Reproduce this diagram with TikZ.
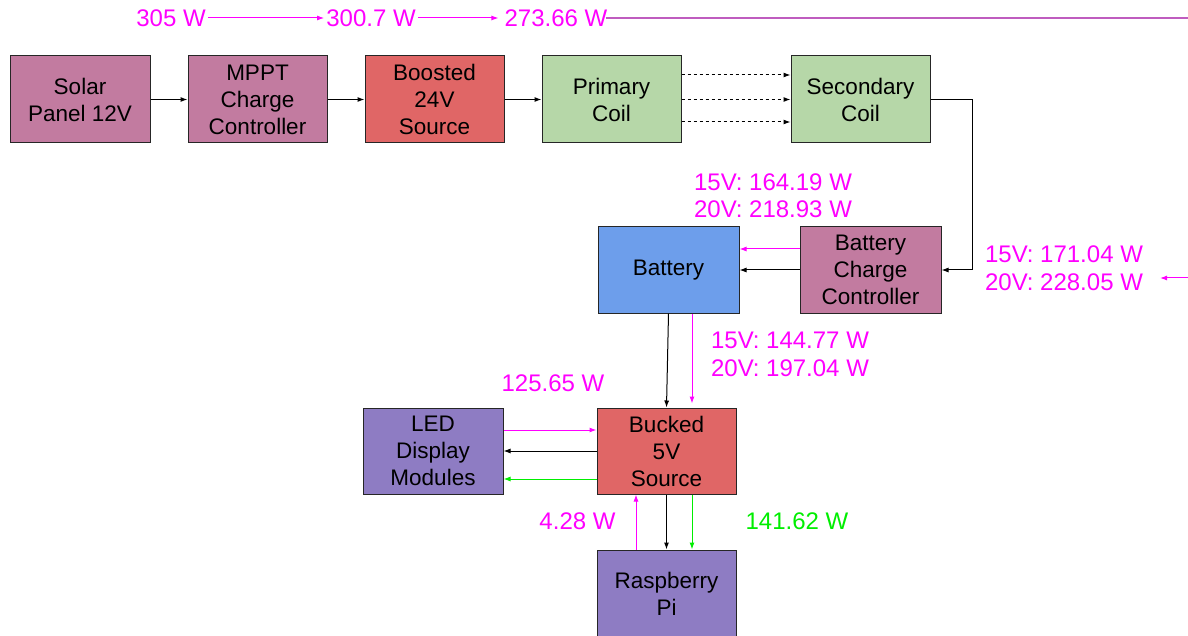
\documentclass[tikz,border=0pt]{standalone}
\usepackage{fontspec}
\setmainfont{Liberation Sans}
\usetikzlibrary{arrows.meta}
\definecolor{pinkbox}{HTML}{C27BA0}
\definecolor{redbox}{HTML}{E06666}
\definecolor{greenbox}{HTML}{B6D7A8}
\definecolor{bluebox}{HTML}{6D9EEB}
\definecolor{purplebox}{HTML}{8E7CC3}
\definecolor{mag}{HTML}{FF00FF}
\definecolor{grn}{HTML}{00EE00}
\definecolor{topline}{HTML}{BF5CBF}
\tikzset{
  blk/.style={draw=black!85, line width=1pt, minimum height=87pt, minimum width=140pt,
    inner sep=0pt, align=center, font=\fontsize{22.5}{27}\selectfont},
  lbl/.style={inner sep=2pt, align=center, font=\fontsize{24}{27.5}\selectfont, text=mag},
  conn/.style={line width=1pt, -{Latex[length=7pt,width=5pt]}},
}
\begin{document}
\begin{tikzpicture}[x=1pt,y=-1pt]
\useasboundingbox (0,0) rectangle (1188,636);
\clip (0,0) rectangle (1188,636);
\fill[white] (0,0) rectangle (1188,636);

% boxes
\node[blk, fill=pinkbox] (solar) at (80,99.5) {Solar\\Panel 12V};
\node[blk, fill=pinkbox, minimum width=139pt] (mppt) at (257.5,99.5) {MPPT\\Charge\\Controller};
\node[blk, fill=redbox, minimum width=139pt] (boost) at (434.5,99.5) {Boosted\\24V\\Source};
\node[blk, fill=greenbox, minimum width=139pt] (prim) at (611.5,99.5) {Primary\\Coil};
\node[blk, fill=greenbox, minimum width=139pt] (sec) at (860.5,99.5) {Secondary\\Coil};
\node[blk, fill=bluebox, minimum width=141pt, minimum height=86pt] (bat) at (668.5,270) {Battery};
\node[blk, fill=pinkbox, minimum width=141pt, minimum height=86pt] (bcc) at (870.5,270) {Battery\\Charge\\Controller};
\node[blk, fill=redbox, minimum width=139pt, minimum height=86pt] (buck) at (666.5,451) {Bucked\\5V\\Source};
\node[blk, fill=purplebox, minimum width=140pt, minimum height=86pt] (led) at (433,451) {LED\\Display\\Modules};
\node[blk, fill=purplebox, minimum width=139pt] (pi) at (666.5,593.5) {Raspberry\\Pi};

% labels
\node[lbl] (p305) at (171,18) {305 W};
\node[lbl] (p300) at (371,18) {300.7 W};
\node[lbl] (p273) at (556,18) {273.66 W};
\node[lbl] (lbat) at (773,195.5) {15V: 164.19 W\\20V: 218.93 W};
\node[lbl] (lin) at (1064,268) {15V: 171.04 W\\20V: 228.05 W};
\node[lbl] (lbuck) at (790,354.5) {15V: 144.77 W\\20V: 197.04 W};
\node[lbl] (lled) at (553,383) {125.65 W};
\node[lbl] (lpi) at (577.5,521) {4.28 W};
\node[lbl, text=grn] (lpig) at (797,521) {141.62 W};

\coordinate (topend) at (1188,18);
\coordinate (inR) at (1188,278);

% top power flow
\draw[conn, mag] (p305.east) -- (p300.west);
\draw[conn, mag, shorten >=4pt] (p300.east) -- (p273.west);
\draw[topline, line width=1.5pt] ([xshift=-4pt]p273.east) -- (topend);

% main chain
\draw[conn] (solar.east) -- (mppt.west);
\draw[conn] (mppt.east) -- (boost.west);
\draw[conn] (boost.east) -- (prim.west);
\draw[conn, dashed] ([yshift=24.5pt]prim.east) -- ([yshift=24.5pt]sec.west);
\draw[conn, dashed] (prim.east) -- (sec.west);
\draw[conn, dashed] ([yshift=-22.5pt]prim.east) -- ([yshift=-22.5pt]sec.west);
\draw[conn] (sec.east) -- ++(42,0) |- (bcc.east);

% battery
\draw[conn, mag] ([yshift=21pt]bcc.west) -- ([yshift=21pt]bat.east);
\draw[conn] (bcc.west) -- (bat.east);
\draw[conn, mag] (inR) -- ++(-28,0);

% battery to buck
\draw[conn] (bat.south) -- (buck.north);
\draw[conn, mag, shorten >=4pt] ([xshift=23.5pt]bat.south) -- ([xshift=25.5pt]buck.north);

% buck to LED
\draw[conn, mag] ([yshift=21pt]led.east) -- ([yshift=21pt]buck.west);
\draw[conn] (buck.west) -- (led.east);
\draw[conn, grn] ([yshift=-28pt]buck.west) -- ([yshift=-28pt]led.east);

% buck to Pi
\draw[conn] (buck.south) -- (pi.north);
\draw[conn, grn] ([xshift=25.5pt]buck.south) -- ([xshift=25.5pt]pi.north);
\draw[conn, mag] ([xshift=-30.5pt]pi.north) -- ([xshift=-30.5pt]buck.south);
\end{tikzpicture}
\end{document}
